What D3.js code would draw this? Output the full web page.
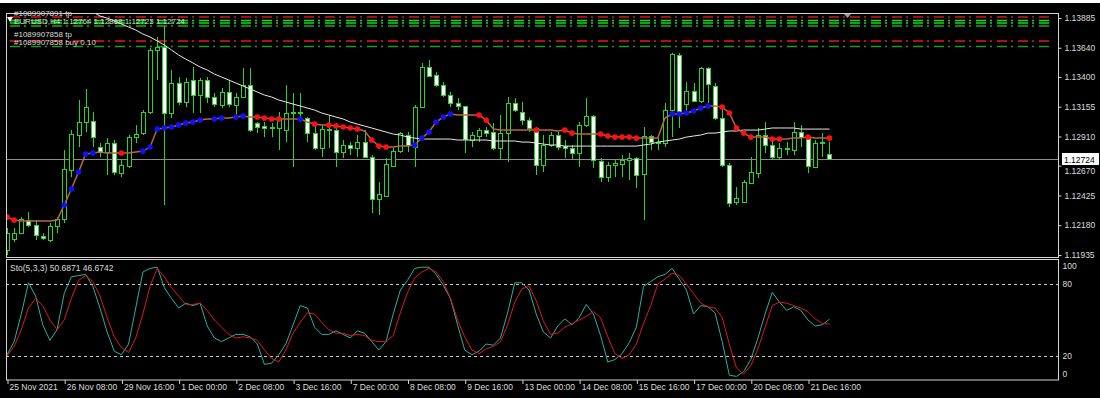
<!DOCTYPE html>
<html>
<head>
<meta charset="utf-8">
<script src="https://cdn.jsdelivr.net/npm/d3@7"></script>
<style>
  body { margin: 0; background: #fff; }
  svg text { font-family: "Liberation Sans", Arial, sans-serif; }
</style>
</head>
<body>
<div id="chart"></div>
<script>
// chart values (EURUSD H4)

var timeLabels = ["25 Nov 2021", "26 Nov 08:00", "29 Nov 16:00", "1 Dec 00:00", "2 Dec 08:00",
  "3 Dec 16:00", "7 Dec 00:00", "8 Dec 08:00", "9 Dec 16:00", "13 Dec 00:00",
  "14 Dec 08:00", "15 Dec 16:00", "17 Dec 00:00", "20 Dec 08:00", "21 Dec 16:00"];
var timeBars = [0, 8, 16, 24, 32, 40, 48, 56, 64, 72, 80, 88, 96, 104, 112];

var priceTicks = [1.13885, 1.13640, 1.13400, 1.13155, 1.12910, 1.12670, 1.12425, 1.12180, 1.11935];
var stochTicks = [0, 20, 80, 100];
var stochLevels = [20, 80];

var openP = [1.11975, 1.12066, 1.12115, 1.12222, 1.12181, 1.12091, 1.12058, 1.12173, 1.12231, 1.12634,
  1.12922, 1.13029, 1.13037, 1.12823, 1.12782, 1.12856, 1.12609, 1.12667, 1.12905, 1.12938,
  1.13111, 1.13622, 1.13646, 1.13103, 1.13350, 1.13194, 1.13375, 1.13251, 1.13375, 1.13235,
  1.13169, 1.13276, 1.13169, 1.13235, 1.13333, 1.13021, 1.12996, 1.12980, 1.12980, 1.12963,
  1.13111, 1.13103, 1.13062, 1.12938, 1.12815, 1.12963, 1.12963, 1.12782, 1.12840, 1.12815,
  1.12864, 1.12741, 1.12395, 1.12420, 1.12667, 1.12790, 1.12922, 1.12823, 1.13152, 1.13482,
  1.13416, 1.13333, 1.13251, 1.13185, 1.13161, 1.12881, 1.12914, 1.12963, 1.12947, 1.12815,
  1.12938, 1.13185, 1.13111, 1.13045, 1.12980, 1.12675, 1.12840, 1.12922, 1.12831, 1.12815,
  1.12774, 1.13004, 1.13078, 1.12708, 1.12576, 1.12675, 1.12683, 1.12716, 1.12733, 1.12601,
  1.12914, 1.12856, 1.12856, 1.13128, 1.13580, 1.13177, 1.13284, 1.13202, 1.13473, 1.13325,
  1.13062, 1.12675, 1.12371, 1.12371, 1.12527, 1.12609, 1.12922, 1.12840, 1.12741, 1.12807,
  1.12798, 1.12947, 1.12905, 1.12659, 1.12856, 1.12764];

var highP = [1.12157, 1.12157, 1.12247, 1.12288, 1.12222, 1.12115, 1.12198, 1.12247, 1.12798, 1.12963,
  1.13210, 1.13301, 1.13111, 1.12856, 1.12897, 1.12881, 1.12716, 1.12922, 1.13004, 1.13128,
  1.13638, 1.13729, 1.13819, 1.13457, 1.13399, 1.13391, 1.13482, 1.13391, 1.13399, 1.13268,
  1.13309, 1.13375, 1.13268, 1.13473, 1.13473, 1.13029, 1.13029, 1.13021, 1.13111, 1.13333,
  1.13268, 1.13268, 1.13070, 1.13004, 1.13004, 1.13087, 1.13021, 1.12881, 1.12864, 1.12922,
  1.12963, 1.12757, 1.12535, 1.12733, 1.12815, 1.12947, 1.12947, 1.13169, 1.13515, 1.13539,
  1.13440, 1.13358, 1.13276, 1.13226, 1.13161, 1.12947, 1.12980, 1.12988, 1.13021, 1.13087,
  1.13235, 1.13226, 1.13194, 1.13062, 1.12988, 1.12922, 1.12947, 1.12947, 1.12881, 1.12840,
  1.13029, 1.13226, 1.13087, 1.12733, 1.12700, 1.12716, 1.12757, 1.12774, 1.12741, 1.12988,
  1.12922, 1.12905, 1.13185, 1.13597, 1.13597, 1.13358, 1.13350, 1.13482, 1.13482, 1.13350,
  1.13152, 1.12692, 1.12494, 1.12552, 1.12741, 1.12980, 1.13029, 1.12881, 1.12856, 1.12864,
  1.13029, 1.13004, 1.12922, 1.12881, 1.12938, 1.12868];

var lowP = [1.11934, 1.12041, 1.12107, 1.12165, 1.12058, 1.12058, 1.12041, 1.12115, 1.12198, 1.12576,
  1.12823, 1.12947, 1.12823, 1.12741, 1.12593, 1.12593, 1.12576, 1.12650, 1.12856, 1.12922,
  1.13095, 1.13375, 1.12346, 1.13062, 1.13169, 1.13152, 1.13103, 1.13103, 1.13185, 1.13152,
  1.13144, 1.13152, 1.13087, 1.13226, 1.12947, 1.12938, 1.12905, 1.12905, 1.12798, 1.12864,
  1.12659, 1.13029, 1.12864, 1.12798, 1.12741, 1.12815, 1.12659, 1.12733, 1.12757, 1.12741,
  1.12733, 1.12280, 1.12264, 1.12412, 1.12659, 1.12774, 1.12782, 1.12659, 1.13144, 1.13399,
  1.13317, 1.13235, 1.13152, 1.13128, 1.12774, 1.12823, 1.12864, 1.12905, 1.12798, 1.12716,
  1.12700, 1.13111, 1.13004, 1.12947, 1.12593, 1.12617, 1.12823, 1.12798, 1.12733, 1.12716,
  1.12659, 1.12988, 1.12650, 1.12535, 1.12535, 1.12576, 1.12576, 1.12552, 1.12486, 1.12222,
  1.12798, 1.12798, 1.12823, 1.12905, 1.12980, 1.13103, 1.13194, 1.13185, 1.13185, 1.13045,
  1.12659, 1.12329, 1.12346, 1.12362, 1.12527, 1.12568, 1.12774, 1.12716, 1.12716, 1.12757,
  1.12757, 1.12823, 1.12609, 1.12650, 1.12741, 1.12723];

var closeP = [1.12115, 1.12115, 1.12231, 1.12181, 1.12099, 1.12074, 1.12173, 1.12231, 1.12642, 1.12930,
  1.13029, 1.13152, 1.12905, 1.12782, 1.12856, 1.12617, 1.12675, 1.12905, 1.12930, 1.13111,
  1.13622, 1.13646, 1.13103, 1.13350, 1.13194, 1.13358, 1.13251, 1.13375, 1.13235, 1.13177,
  1.13276, 1.13177, 1.13235, 1.13333, 1.12963, 1.12988, 1.12980, 1.12988, 1.13062, 1.13103,
  1.13103, 1.13111, 1.12938, 1.12815, 1.12971, 1.12971, 1.12782, 1.12840, 1.12815, 1.12864,
  1.12741, 1.12395, 1.12436, 1.12683, 1.12790, 1.12938, 1.12840, 1.13152, 1.13482, 1.13408,
  1.13333, 1.13251, 1.13185, 1.13161, 1.12889, 1.12922, 1.12963, 1.12938, 1.12815, 1.12938,
  1.13185, 1.13128, 1.13045, 1.12980, 1.12675, 1.12840, 1.12922, 1.12823, 1.12815, 1.12774,
  1.13004, 1.13078, 1.12716, 1.12576, 1.12675, 1.12692, 1.12716, 1.12733, 1.12593, 1.12914,
  1.12864, 1.12864, 1.13128, 1.13589, 1.13103, 1.13284, 1.13202, 1.13473, 1.13342, 1.13062,
  1.12675, 1.12362, 1.12403, 1.12535, 1.12617, 1.12922, 1.12840, 1.12741, 1.12815, 1.12815,
  1.12947, 1.12905, 1.12667, 1.12856, 1.12864, 1.12724];

// slow moving average (white), first visible value at bar 12
var maStart = 12;
var maValues = [1.13934, 1.13901, 1.13885, 1.13860, 1.13836, 1.13811, 1.13786, 1.13753, 1.13729, 1.13696,
  1.13663, 1.13622, 1.13580, 1.13547, 1.13515, 1.13482, 1.13457, 1.13424, 1.13399, 1.13375,
  1.13350, 1.13325, 1.13301, 1.13276, 1.13251, 1.13235, 1.13210, 1.13194, 1.13177, 1.13161,
  1.13144, 1.13128, 1.13103, 1.13087, 1.13070, 1.13054, 1.13029, 1.13012, 1.12996, 1.12980,
  1.12963, 1.12947, 1.12930, 1.12922, 1.12905, 1.12897, 1.12889, 1.12889, 1.12889, 1.12889,
  1.12889, 1.12881, 1.12881, 1.12881, 1.12881, 1.12881, 1.12873, 1.12873, 1.12873, 1.12873,
  1.12864, 1.12864, 1.12856, 1.12848, 1.12840, 1.12840, 1.12831, 1.12831, 1.12831, 1.12831,
  1.12831, 1.12831, 1.12831, 1.12831, 1.12831, 1.12831, 1.12831, 1.12840, 1.12848, 1.12864,
  1.12873, 1.12881, 1.12889, 1.12905, 1.12914, 1.12922, 1.12938, 1.12938, 1.12947, 1.12955,
  1.12955, 1.12963, 1.12963, 1.12963, 1.12971, 1.12980, 1.12980, 1.12980, 1.12980, 1.12971,
  1.12971, 1.12971, 1.12971, 1.12971];

// trend line with coloured dots: 1 = up (blue), -1 = down (red), 0 = no dot
var trendValues = [1.12247, 1.12222, 1.12214, 1.12214, 1.12214, 1.12214, 1.12214, 1.12222, 1.12346, 1.12478,
  1.12617, 1.12766, 1.12774, 1.12782, 1.12774, 1.12774, 1.12774, 1.12774, 1.12782, 1.12790,
  1.12823, 1.12971, 1.12980, 1.12988, 1.13004, 1.13021, 1.13029, 1.13045, 1.13054, 1.13054,
  1.13062, 1.13062, 1.13070, 1.13078, 1.13070, 1.13070, 1.13062, 1.13054, 1.13054, 1.13054,
  1.13054, 1.13054, 1.13029, 1.13012, 1.13004, 1.13004, 1.12996, 1.12988, 1.12980, 1.12971,
  1.12955, 1.12881, 1.12831, 1.12823, 1.12823, 1.12831, 1.12831, 1.12840, 1.12897, 1.12947,
  1.13029, 1.13070, 1.13095, 1.13087, 1.13087, 1.13087, 1.13087, 1.13045, 1.12971, 1.12963,
  1.12963, 1.12963, 1.12963, 1.12963, 1.12963, 1.12963, 1.12963, 1.12955, 1.12963, 1.12938,
  1.12930, 1.12930, 1.12930, 1.12930, 1.12914, 1.12905, 1.12905, 1.12905, 1.12897, 1.12897,
  1.12897, 1.12897, 1.13062, 1.13095, 1.13095, 1.13103, 1.13120, 1.13144, 1.13161, 1.13161,
  1.13152, 1.13103, 1.12980, 1.12938, 1.12905, 1.12905, 1.12905, 1.12889, 1.12889, 1.12889,
  1.12897, 1.12897, 1.12905, 1.12897, 1.12897, 1.12897];
var trendDir = [-1, -1, 0, 0, 0, 0, 0, 0, 1, 1, 1, 1, 1, 0, 0, 0, -1, 0, 0, 1,
  1, 1, 1, 1, 1, 1, 1, 1, 0, 1, 1, 0, 1, 1, 0, -1, -1, -1, -1, 0,
  0, 1, 0, -1, 0, -1, -1, -1, -1, -1, 0, -1, -1, -1, 0, 0, 0, 1, 1, 1,
  1, 1, 1, 0, 0, 0, -1, -1, 0, 0, 0, 0, 0, 0, -1, 0, 0, 0, -1, -1,
  0, 0, 0, -1, -1, -1, -1, -1, -1, 0, 0, 0, 0, 1, 1, 1, 1, 1, 1, 0,
  -1, -1, -1, -1, -1, 0, 0, -1, -1, 0, 0, 0, -1, 0, 0, -1];

// Stochastic(5,3,3)
var stochMain = [21, 32, 55, 81, 70, 46, 33, 42, 72, 86, 87, 88, 78, 60, 40, 24, 21, 30, 60, 90,
  93, 94, 77, 68, 60, 64, 62, 64, 45, 35, 32, 35, 38, 38, 36, 30, 13, 14, 21,
  30, 46, 62, 60, 44, 38, 38, 41, 38, 35, 41, 39, 32, 25, 32, 55, 75, 83, 93, 94,
  94, 88, 79, 68, 46, 25, 21, 24, 30, 29, 35, 56, 81, 81, 75, 55, 40, 35, 45,
  51, 46, 52, 63, 55, 37, 15, 17, 22, 31, 44, 78, 82, 86, 88, 93, 84, 75, 55, 62,
  61, 56, 32, 4, 3, 7, 17, 35, 55, 73, 65, 58, 61, 58, 50, 45, 46, 50.6871];
var stochSignal = [20, 28, 42, 60, 68, 62, 50, 42, 50, 68, 83, 87, 82, 70, 52, 36, 27, 23, 35, 55,
  78, 93, 86, 77, 70, 63, 63, 64, 58, 50, 44, 38, 35, 36, 35, 33, 25, 18, 15,
  25, 39, 48, 56, 55, 48, 42, 39, 39, 37, 38, 37, 33, 32, 32, 37, 56, 73, 85, 90,
  93, 90, 82, 68, 50, 36, 25, 22, 26, 28, 32, 46, 65, 76, 78, 66, 49, 38, 39,
  44, 47, 50, 53, 57, 52, 36, 22, 18, 21, 30, 47, 62, 80, 84, 89, 87, 80, 72, 64,
  61, 60, 52, 30, 10, 5, 12, 26, 44, 62, 65, 64, 62, 60, 57, 51, 47, 46.6742];

// order lines (sl / tp / open) and the bid
var orderLevels = [1.13893, 1.13864, 1.13844, 1.13819, 1.13696, 1.13650];
var bidPrice = 1.12724;

//drawing the chart area

var svgWidth = 1100;
var svgHeight = 398;
var plotLeft = 6;
var plotRight = 1058;
var mainTop = 13;
var mainBottom = 257;
var subTop = 260;
var subBottom = 380;

var svg = d3
  .select("#chart")
  .append("svg")
  .attr("width", svgWidth)
  .attr("height", svgHeight);

svg.append("rect").attr("width", svgWidth).attr("height", svgHeight).attr("fill", "#ffffff");
svg.append("rect").attr("x", 0).attr("y", 3).attr("width", svgWidth).attr("height", svgHeight - 3).attr("fill", "#000000");

var defs = svg.append("defs");
defs.append("clipPath").attr("id", "mainClip").append("rect")
  .attr("x", plotLeft + 1).attr("y", mainTop + 1)
  .attr("width", plotRight - plotLeft - 1).attr("height", mainBottom - mainTop - 1);
defs.append("clipPath").attr("id", "subClip").append("rect")
  .attr("x", plotLeft + 1).attr("y", subTop)
  .attr("width", plotRight - plotLeft - 1).attr("height", subBottom - subTop);

// scales
var xScale = d3.scaleLinear().domain([0, 112]).range([7, 808]);
var yScale = d3.scaleLinear().domain([1.11935, 1.13885]).range([255, 18]);
var sScale = d3.scaleLinear().domain([0, 100]).range([subBottom, subTop]);

var green = "#2bd42b";
var labelColor = "#dcdcdc";

var bars = d3.range(openP.length).map(function (i) {
  return { i: i, o: openP[i], h: highP[i], l: lowP[i], c: closeP[i] };
});

var main = svg.append("g").attr("clip-path", "url(#mainClip)");

// order lines
var orderColors = ["#e01010", "#10e010", "#10e010", "#10b010", "#f01414", "#1f991f"];
main.selectAll(".order")
  .data(orderLevels)
  .enter()
  .append("line")
  .attr("x1", plotLeft + 4)
  .attr("x2", plotRight - 8)
  .attr("y1", function (d) { return yScale(d); })
  .attr("y2", function (d) { return yScale(d); })
  .attr("stroke", function (d, i) { return orderColors[i]; })
  .attr("stroke-width", 1.6)
  .attr("stroke-dasharray", "10,4,2,5");

// bid line
main.append("line")
  .attr("x1", plotLeft).attr("x2", plotRight)
  .attr("y1", Math.round(yScale(bidPrice)) + 0.5)
  .attr("y2", Math.round(yScale(bidPrice)) + 0.5)
  .attr("stroke", "#8c8c8c");

// candles
function cx(i) { return Math.round(xScale(i)); }

main.selectAll(".wick")
  .data(bars)
  .enter()
  .append("line")
  .attr("x1", function (d) { return cx(d.i) + 0.5; })
  .attr("x2", function (d) { return cx(d.i) + 0.5; })
  .attr("y1", function (d) { return yScale(d.h); })
  .attr("y2", function (d) { return yScale(d.l); })
  .attr("stroke", green);

main.selectAll(".body")
  .data(bars)
  .enter()
  .append("rect")
  .attr("x", function (d) { return cx(d.i) - 1.5; })
  .attr("width", 4)
  .attr("y", function (d) { return Math.round(yScale(Math.max(d.o, d.c))) + 0.5; })
  .attr("height", function (d) {
    return Math.max(Math.round(yScale(Math.min(d.o, d.c))) - Math.round(yScale(Math.max(d.o, d.c))), 0);
  })
  .attr("fill", function (d) { return d.c >= d.o ? "#000000" : "#ffffff"; })
  .attr("stroke", green);

// moving average
var maLine = d3.line()
  .x(function (d, i) { return xScale(i + maStart); })
  .y(function (d) { return yScale(d); });

main.append("path")
  .datum(maValues)
  .attr("d", maLine)
  .attr("fill", "none")
  .attr("stroke", "#e8e8e8")
  .attr("stroke-width", 1);

// trend line + dots
var trendLine = d3.line()
  .x(function (d, i) { return xScale(i); })
  .y(function (d) { return yScale(d); });

main.append("path")
  .datum(trendValues)
  .attr("d", trendLine)
  .attr("fill", "none")
  .attr("stroke", "#b8683a")
  .attr("stroke-width", 1.5);

main.selectAll(".dot")
  .data(trendValues.map(function (v, i) { return { i: i, v: v, dir: trendDir[i] }; })
    .filter(function (d) { return d.dir !== 0; }))
  .enter()
  .append("circle")
  .attr("cx", function (d) { return xScale(d.i); })
  .attr("cy", function (d) { return yScale(d.v); })
  .attr("r", 2.8)
  .attr("fill", function (d) { return d.dir > 0 ? "#1010ff" : "#ff1010"; });

// order labels and header
var header = svg.append("g").style("font-size", "8px").attr("fill", labelColor);
header.append("text").attr("x", 14).attr("y", 16).text("#1089907891 tp");
header.append("text").attr("x", 14).attr("y", 24).text("EURUSD,H4 1.12764 1.12868 1.12723 1.12724");
header.append("text").attr("x", 14).attr("y", 37).text("#1089907858 tp");
header.append("text").attr("x", 14).attr("y", 45).text("#1089907858 buy 0.10");
header.append("path").attr("d", "M7,17 L13,17 L10,22 Z").attr("fill", "#ffffff");
svg.append("path").attr("d", "M844,14 L851,14 L847.5,18 Z").attr("fill", "#9a9a9a");

// stochastic window
var sub = svg.append("g").attr("clip-path", "url(#subClip)");

sub.selectAll(".level")
  .data(stochLevels)
  .enter()
  .append("line")
  .attr("x1", plotLeft).attr("x2", plotRight)
  .attr("y1", function (d) { return Math.round(sScale(d)) + 0.5; })
  .attr("y2", function (d) { return Math.round(sScale(d)) + 0.5; })
  .attr("stroke", "#c8c8c8")
  .attr("stroke-dasharray", "3,3");

var stochLine = d3.line()
  .x(function (d, i) { return xScale(i); })
  .y(function (d) { return sScale(d); });

sub.append("path").datum(stochMain).attr("d", stochLine)
  .attr("fill", "none").attr("stroke", "#28b0a4").attr("stroke-width", 1);
sub.append("path").datum(stochSignal).attr("d", stochLine)
  .attr("fill", "none").attr("stroke", "#e01818").attr("stroke-width", 1);

svg.append("text")
  .attr("x", 10).attr("y", 271)
  .style("font-size", "8.5px")
  .attr("fill", labelColor)
  .text("Sto(5,3,3) " + stochMain[stochMain.length - 1].toFixed(4) + " " + stochSignal[stochSignal.length - 1].toFixed(4));

// frames
var frame = svg.append("g").attr("fill", "none").attr("stroke", "#d4d4d4");
frame.append("rect").attr("x", plotLeft + 0.5).attr("y", mainTop + 0.5)
  .attr("width", plotRight - plotLeft).attr("height", mainBottom - mainTop);
frame.append("rect").attr("x", plotLeft + 0.5).attr("y", subTop - 0.5)
  .attr("width", plotRight - plotLeft).attr("height", subBottom - subTop + 0.5);

// axes
var yAxis = d3.axisRight(yScale)
  .tickValues(priceTicks)
  .tickFormat(d3.format(".5f"))
  .tickSize(3)
  .tickPadding(3);

var yAxisG = svg.append("g")
  .attr("transform", "translate(" + (plotRight + 0.5) + ",0)")
  .call(yAxis);
yAxisG.select(".domain").remove();
yAxisG.selectAll("line").attr("stroke", "#d4d4d4");
yAxisG.selectAll("text").attr("fill", labelColor)
  .style("font-size", "8.5px").style("font-family", "Liberation Sans, Arial, sans-serif")
  .attr("dy", function (d) { return d === 1.12670 ? "0.95em" : "0.32em"; });

// bid price label (covers the upper half of the 1.12670 label, as in the terminal)
svg.append("rect")
  .attr("x", plotRight + 4).attr("y", Math.round(yScale(bidPrice)) - 6)
  .attr("width", 37).attr("height", 12)
  .attr("fill", "#ffffff");
svg.append("text")
  .attr("x", plotRight + 6).attr("y", Math.round(yScale(bidPrice)) + 3.5)
  .style("font-size", "8.5px")
  .attr("fill", "#000000")
  .text(d3.format(".5f")(bidPrice));

var sAxis = d3.axisRight(sScale)
  .tickValues(stochTicks)
  .tickFormat(d3.format("d"))
  .tickSize(0)
  .tickPadding(4);

var sAxisG = svg.append("g")
  .attr("transform", "translate(" + (plotRight + 0.5) + ",0)")
  .call(sAxis);
sAxisG.select(".domain").remove();
sAxisG.selectAll("text").attr("fill", labelColor)
  .style("font-size", "8.5px").style("font-family", "Liberation Sans, Arial, sans-serif")
  .attr("y", function (d) { return d === 100 ? 6 : (d === 0 ? -6 : 0); });

var xAxis = d3.axisBottom(xScale)
  .tickValues(timeBars)
  .tickFormat(function (d, i) { return timeLabels[i]; })
  .tickSize(4);

var xAxisG = svg.append("g")
  .attr("transform", "translate(0," + subBottom + ")")
  .call(xAxis);
xAxisG.select(".domain").remove();
xAxisG.selectAll("line").attr("stroke", "#d4d4d4")
  .attr("transform", "translate(0.5,0)");
xAxisG.selectAll("text").attr("fill", labelColor)
  .style("font-size", "8.5px").style("font-family", "Liberation Sans, Arial, sans-serif")
  .style("text-anchor", "start")
  .attr("x", 2)
  .attr("y", 4);
</script>
</body>
</html>
